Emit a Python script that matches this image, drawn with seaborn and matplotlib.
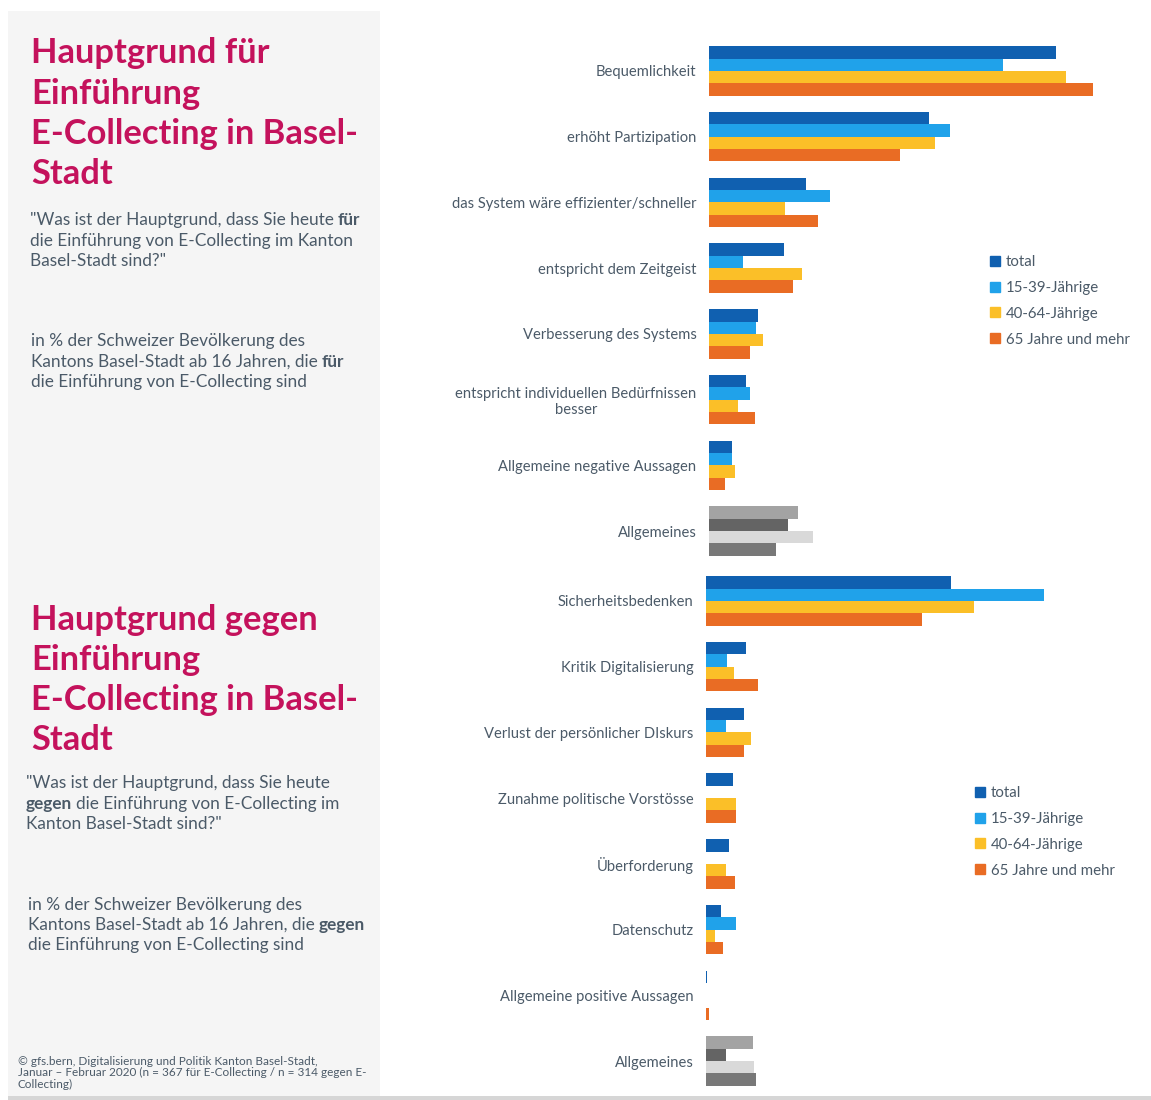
import numpy as np
import pandas as pd
import seaborn as sns
import matplotlib.pyplot as plt
import matplotlib.patches as mpatches

# ---- data (in %) ----
groups = ["total", "15-39-Jährige", "40-64-Jährige", "65 Jahre und mehr"]

reasons_pro = ["Bequemlichkeit", "erhöht Partizipation",
               "das System wäre effizienter/schneller", "entspricht dem Zeitgeist",
               "Verbesserung des Systems", "entspricht individuellen Bedürfnissen\nbesser",
               "Allgemeine negative Aussagen", "Allgemeines"]
pro_total = [37, 23.5, 10.4, 8, 5.2, 3.9, 2.5, 9.5]
pro_15_39 = [31.4, 25.7, 12.9, 3.6, 5, 4.4, 2.5, 8.4]
pro_40_64 = [38.1, 24.1, 8.1, 9.9, 5.8, 3.1, 2.8, 11.1]
pro_65 = [41, 20.4, 11.6, 9, 4.4, 4.9, 1.7, 7.2]

reasons_contra = ["Sicherheitsbedenken", "Kritik Digitalisierung",
                  "Verlust der persönlicher DIskurs", "Zunahme politische Vorstösse",
                  "Überforderung", "Datenschutz", "Allgemeine positive Aussagen",
                  "Allgemeines"]
contra_total = [56.1, 9.2, 8.7, 6.2, 5.3, 3.4, 0.25, 10.8]
contra_15_39 = [77.3, 4.8, 4.6, 0, 0, 6.9, 0, 4.6]
contra_40_64 = [61.3, 6.4, 10.3, 6.9, 4.6, 2.1, 0, 11]
contra_65 = [49.4, 11.9, 8.7, 6.9, 6.6, 3.9, 0.7, 11.4]

colors = ["#1060b0", "#20a2ea", "#fbbf28", "#e96c24"]
greys = ["#a3a3a3", "#646464", "#d9d9d9", "#787878"]
magenta = "#c4125c"
textcol = "#4b5a68"

W, H = 1151, 1100
sns.set_theme(style="white")
plt.rcParams["font.family"] = ["Lato", "DejaVu Sans"]

fig = plt.figure(figsize=(W / 100, H / 100), dpi=100)
fig.patch.set_facecolor("white")


def long_df(reasons, vals):
    rows = []
    for g, v in zip(groups, vals):
        for r, x in zip(reasons, v):
            rows.append({"reason": r, "group": g, "value": x})
    return pd.DataFrame(rows)


def draw_bars(rect, reasons, vals, xmax, leg_xy):
    ax = fig.add_axes(rect)
    df = long_df(reasons, vals)
    sns.barplot(data=df, y="reason", x="value", hue="group", order=reasons,
                hue_order=groups, palette=colors, saturation=1, width=0.75,
                orient="h", linewidth=0, ax=ax, legend=False)
    # last category drawn in greys
    for i, cont in enumerate(ax.containers):
        cont.patches[-1].set_facecolor(greys[i])
    ax.set_xlim(0, xmax)
    ax.set_ylim(len(reasons) - 0.5, -0.5)
    ax.set_xlabel("")
    ax.set_ylabel("")
    ax.set_xticks([])
    sns.despine(ax=ax, left=True, bottom=True)
    ax.tick_params(axis="y", length=0, pad=9, labelsize=10.6, labelcolor=textcol)
    for lab in ax.get_yticklabels():
        lab.set_multialignment("center")
    handles = [mpatches.Patch(color=c, label=g) for c, g in zip(colors, groups)]
    fig.legend(handles=handles, loc="upper left",
               bbox_to_anchor=(leg_xy[0] / W, 1 - leg_xy[1] / H),
               frameon=False, fontsize=10.8, labelcolor=textcol,
               handlelength=0.65, handleheight=0.65, handletextpad=0.4,
               labelspacing=0.79, borderpad=0, borderaxespad=0)
    return ax


draw_bars([709 / W, 1 - 564 / H, 431 / W, 526 / H], reasons_pro,
          [pro_total, pro_15_39, pro_40_64, pro_65], 431 / 9.37, (990, 255))
draw_bars([706 / W, 1 - 1094 / H, 434 / W, 526 / H], reasons_contra,
          [contra_total, contra_15_39, contra_40_64, contra_65], 434 / 4.37, (975, 786))

# ---- left panel ----
fig.patches.append(mpatches.Rectangle((8 / W, 1 - 1096 / H), 372 / W, 1085 / H,
                                      transform=fig.transFigure,
                                      facecolor="#f5f5f5", edgecolor="none", zorder=0))
fig.patches.append(mpatches.Rectangle((8 / W, 0), 1143 / W, 4 / H,
                                      transform=fig.transFigure,
                                      facecolor="#d6d6d6", edgecolor="none", zorder=0))

renderer = fig.canvas.get_renderer()


def rich_lines(x, ys, lines, size=12.4):
    for y, segs in zip(ys, lines):
        cx = x
        for txt, bold in segs:
            t = fig.text(cx / W, 1 - y / H, txt, fontsize=size, color=textcol,
                         fontweight="bold" if bold else "normal", va="center", ha="left")
            bb = t.get_window_extent(renderer)
            cx = bb.x1 + 4


def title(x, ys, lines):
    for y, l in zip(ys, lines):
        fig.text(x / W, 1 - y / H, l, fontsize=24.8, fontweight="bold",
                 color=magenta, va="center", ha="left")


title(31, [53, 94, 134, 174], ["Hauptgrund für", "Einführung",
                               "E-Collecting in Basel-", "Stadt"])
rich_lines(30, [220, 241, 261], [
    [('"Was ist der Hauptgrund, dass Sie heute', False), ("für", True)],
    [("die Einführung von E-Collecting im Kanton", False)],
    [('Basel-Stadt sind?"', False)]])
rich_lines(31, [341, 362, 382], [
    [("in % der Schweizer Bevölkerung des", False)],
    [("Kantons Basel-Stadt ab 16 Jahren, die", False), ("für", True)],
    [("die Einführung von E-Collecting sind", False)]])

title(31, [620, 660, 700, 740], ["Hauptgrund gegen", "Einführung",
                                 "E-Collecting in Basel-", "Stadt"])
rich_lines(26, [783, 804, 824], [
    [('"Was ist der Hauptgrund, dass Sie heute', False)],
    [("gegen", True), ("die Einführung von E-Collecting im", False)],
    [('Kanton Basel-Stadt sind?"', False)]])
rich_lines(28, [905, 925, 945], [
    [("in % der Schweizer Bevölkerung des", False)],
    [("Kantons Basel-Stadt ab 16 Jahren, die", False), ("gegen", True)],
    [("die Einführung von E-Collecting sind", False)]])

fig.text(18 / W, 1 - 1073 / H,
         "© gfs.bern, Digitalisierung und Politik Kanton Basel-Stadt,\n"
         "Januar – Februar 2020 (n = 367 für E-Collecting / n = 314 gegen E-\n"
         "Collecting)", fontsize=8.5, color=textcol, va="center", ha="left",
         linespacing=1.1)

fig.savefig("out.png", dpi=100)
